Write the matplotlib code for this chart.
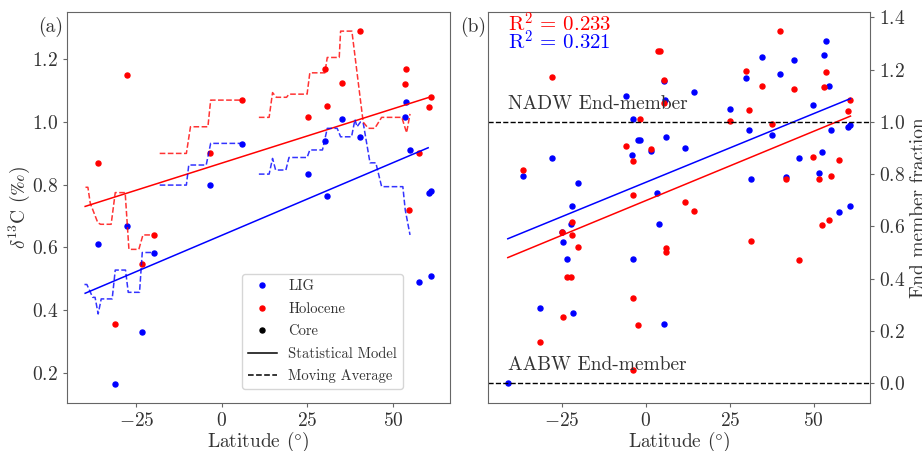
import numpy as np
import matplotlib
matplotlib.use("Agg")
import matplotlib.pyplot as plt
from matplotlib.lines import Line2D

plt.rcParams["font.family"] = ["cmr10", "DejaVu Serif"]
plt.rcParams["mathtext.fontset"] = "cm"
plt.rcParams["axes.formatter.use_mathtext"] = True
plt.rcParams["axes.edgecolor"] = "#666666"
plt.rcParams["xtick.color"] = "#666666"
plt.rcParams["ytick.color"] = "#666666"
plt.rcParams["xtick.labelcolor"] = "#333333"
plt.rcParams["ytick.labelcolor"] = "#333333"
plt.rcParams["axes.labelcolor"] = "#333333"
plt.rcParams["text.color"] = "#333333"

# ---- panel (a): d13C per core ----
lat_lig_a = [-36.2, -31.3, -27.8, -23.3, -19.9, -3.4, 5.9, 25.3, 30.0, 30.8,
             35.0, 40.3, 53.4, 53.8, 54.9, 57.7, 60.6, 61.2, 61.2]
d13c_lig = [0.610, 0.165, 0.669, 0.329, 0.584, 0.799, 0.930, 0.834, 0.940, 0.764,
            1.010, 0.952, 1.017, 1.065, 0.910, 0.489, 0.774, 0.781, 0.509]
lat_hol_a = [-36.3, -31.3, -27.8, -23.3, -19.9, -3.4, 5.9, 25.3, 30.0, 30.8,
             35.0, 40.3, 53.4, 53.8, 54.7, 57.7, 60.6, 61.2]
d13c_hol = [0.870, 0.355, 1.150, 0.546, 0.640, 0.900, 1.070, 1.017, 1.170, 1.050,
            1.124, 1.290, 1.120, 1.168, 0.720, 0.900, 1.049, 1.081]

# statistical model end points
fit_lat_lig_a = [-40.0, 60.3]
fit_lig_a = [0.454, 0.918]
fit_lat_hol_a = [-40.0, 61.2]
fit_hol_a = [0.731, 1.081]

# moving averages (NaN = gap)
nan = np.nan
ma_lat_hol = [-39.9, -39.2, -38.5, -36.3, -35.5, -32.4, -31.2, -28.3, -27.2, -24.3, -23.1, -20.4, nan,
              -18.2, -10.4, -9.2, -4.1, -3.3, 5.5, nan,
              10.8, 13.8, 14.8, 15.9, 18.9, 19.6, 24.9, 25.7, 30.1, 30.8, 34.3, 34.7, 38.0,
              41.3, 42.8, 44.7, 46.7, 52.6, 54.0, 55.0]
ma_hol = [0.792, 0.792, 0.741, 0.679, 0.674, 0.674, 0.775, 0.775, 0.594, 0.594, 0.640, 0.640, nan,
          0.900, 0.900, 0.985, 0.985, 1.070, 1.070, nan,
          1.015, 1.015, 1.094, 1.079, 1.079, 1.089, 1.089, 1.157, 1.157, 1.206, 1.206, 1.290, 1.290,
          1.000, 0.980, 0.980, 1.015, 1.015, 0.966, 1.026]
ma_lat_lig = [-40.2, -39.5, -37.8, -37.1, -36.2, -35.3, -32.1, -31.2, -28.2, -27.4, -24.1, -23.3, -20.3, nan,
              -18.2, -10.4, -9.7, -4.6, -3.3, 5.5, nan,
              10.8, 13.8, 14.8, 15.7, 18.7, 19.6, 24.9, 25.7, 29.4, 30.8, 33.7, 34.7, 37.9,
              38.9, 39.5, 40.5, 41.3, 43.3, 45.0, 46.7, 52.9, 53.6, 55.0]
ma_lig = [0.482, 0.482, 0.441, 0.441, 0.388, 0.436, 0.436, 0.528, 0.528, 0.457, 0.457, 0.584, 0.584, nan,
          0.799, 0.799, 0.863, 0.863, 0.932, 0.932, nan,
          0.834, 0.834, 0.884, 0.847, 0.847, 0.887, 0.887, 0.911, 0.911, 0.980, 0.980, 0.953, 0.953,
          1.008, 0.985, 1.000, 0.998, 0.870, 0.870, 0.794, 0.794, 0.720, 0.640]

# ---- panel (b): end member fraction ----
lat_lig_b = [-41.0, -36.4, -31.5, -28.0, -24.8, -24.7, -23.5, -22.3, -21.8, -21.7, -20.2,
             -5.9, -4.0, -3.7, -3.7, -2.3, -1.6, 1.5, 3.5, 4.0, 5.4, 5.5, 5.7, 6.0,
             11.6, 14.4, 25.1, 29.8, 30.6, 31.3, 34.7, 37.7, 39.9, 41.7, 44.1, 45.6,
             49.8, 51.5, 52.4, 53.1, 53.5, 54.5, 55.1, 57.4, 60.2, 60.9, 60.9]
frac_lig = [0.000, 0.793, 0.290, 0.863, 0.577, 0.542, 0.474, 0.609, 0.679, 0.268, 0.765,
            1.100, 0.873, 1.011, 0.474, 0.931, 0.931, 0.889, 0.727, 0.609, 0.229, 1.157, 1.083, 0.943,
            0.901, 1.113, 1.049, 1.169, 0.970, 0.780, 1.249, 0.951, 1.183, 0.790, 1.238, 0.863,
            1.064, 0.804, 0.883, 1.257, 1.310, 1.136, 0.970, 0.656, 0.980, 0.989, 0.679]
lat_hol_b = [-36.4, -31.5, -28.0, -24.8, -24.7, -23.5, -22.3, -21.8, -21.8, -20.2,
             -5.9, -3.7, -3.7, -3.7, -3.7, -2.2, -1.7, 1.5, 3.7, 4.2, 5.3, 5.5, 6.0, 6.0,
             11.6, 14.4, 25.1, 29.8, 30.6, 31.3, 34.7, 37.7, 39.9, 41.7, 44.1, 45.6,
             49.8, 51.5, 52.4, 53.1, 53.5, 54.5, 55.1, 57.4, 60.2, 60.9]
frac_hol = [0.816, 0.160, 1.170, 0.580, 0.252, 0.405, 0.405, 0.618, 0.567, 0.522,
            0.909, 0.850, 0.720, 0.327, 0.053, 0.223, 1.010, 0.895, 1.272, 1.272, 1.160, 1.071, 0.516, 0.503,
            0.692, 0.659, 1.002, 1.196, 1.044, 0.546, 1.137, 0.990, 1.348, 0.782, 1.125, 0.473,
            0.865, 0.781, 0.605, 1.132, 1.192, 0.624, 0.794, 0.853, 1.043, 1.082]

fit_lat_b = [-41.0, 60.9]
fit_lig_b = [0.553, 1.089]
fit_hol_b = [0.481, 1.022]

r2_hol = 0.233
r2_lig = 0.321

fig = plt.figure(figsize=(9.22, 4.51), dpi=100)
ax1 = fig.add_axes([0.0727, 0.1064, 0.4154, 0.8670])
ax2 = fig.add_axes([0.5296, 0.1064, 0.4140, 0.8670])

ms = 3.6
lat_label = r"Latitude ($\degree$)"

# panel (a)
ax1.plot(lat_lig_a, d13c_lig, "o", color="blue", ms=ms, lw=0)
ax1.plot(lat_hol_a, d13c_hol, "o", color="red", ms=ms, lw=0)
ax1.plot(fit_lat_lig_a, fit_lig_a, color="blue", lw=1.1)
ax1.plot(fit_lat_hol_a, fit_hol_a, color="red", lw=1.1)
ax1.plot(ma_lat_lig, ma_lig, "--", color="blue", lw=1.1, alpha=0.8)
ax1.plot(ma_lat_hol, ma_hol, "--", color="red", lw=1.1, alpha=0.8)

ax1.set_xlim(-45.3, 66.7)
ax1.set_ylim(0.104, 1.351)
ax1.set_xticks([-25, 0, 25, 50])
ax1.set_yticks([0.2, 0.4, 0.6, 0.8, 1.0, 1.2])
ax1.set_xlabel(lat_label, fontsize=14, labelpad=0)
ax1.set_ylabel(r"$\delta^{13}$C ($\perthousand$)", fontsize=14, labelpad=0)
ax1.tick_params(labelsize=14, length=3, width=0.8)
ax1.text(-0.01, 0.963, "(a)", transform=ax1.transAxes, ha="right", va="center", fontsize=14)

handles = [
    Line2D([0], [0], marker="o", color="w", markerfacecolor="blue", markeredgecolor="blue", ms=ms, label="LIG"),
    Line2D([0], [0], marker="o", color="w", markerfacecolor="red", markeredgecolor="red", ms=ms, label="Holocene"),
    Line2D([0], [0], marker="o", color="w", markerfacecolor="black", markeredgecolor="black", ms=ms, label="Core"),
    Line2D([0], [0], color="black", lw=1.1, label="Statistical Model"),
    Line2D([0], [0], color="black", lw=1.1, ls="--", label="Moving Average"),
]
ax1.legend(handles=handles, loc="lower right", fontsize=10.5, labelspacing=0.6,
           borderaxespad=0.0, bbox_to_anchor=(0.877, 0.035))

# panel (b)
ax2.plot(lat_lig_b, frac_lig, "o", color="blue", ms=ms, lw=0)
ax2.plot(lat_hol_b, frac_hol, "o", color="red", ms=ms, lw=0)
ax2.plot(fit_lat_b, fit_lig_b, color="blue", lw=1.1)
ax2.plot(fit_lat_b, fit_hol_b, color="red", lw=1.1)
ax2.axhline(1.0, color="black", ls="--", lw=1.0)
ax2.axhline(0.0, color="black", ls="--", lw=1.0)
ax2.text(-41.0, 1.05, "NADW End-member", fontsize=14, ha="left", va="baseline")
ax2.text(-41.0, 0.05, "AABW End-member", fontsize=14, ha="left", va="baseline")
ax2.text(0.052, 0.95, r"R$^2$ = %.3f" % r2_hol, color="red", transform=ax2.transAxes,
         fontsize=15, ha="left", va="baseline")
ax2.text(0.052, 0.903, r"R$^2$ = %.3f" % r2_lig, color="blue", transform=ax2.transAxes,
         fontsize=15, ha="left", va="baseline")

ax2.set_xlim(-46.8, 66.7)
ax2.set_ylim(-0.075, 1.42)
ax2.set_xticks([-25, 0, 25, 50])
ax2.set_yticks([0.0, 0.2, 0.4, 0.6, 0.8, 1.0, 1.2, 1.4])
ax2.yaxis.tick_right()
ax2.yaxis.set_label_position("right")
ax2.set_xlabel(lat_label, fontsize=14, labelpad=0)
ax2.set_ylabel("End member fraction", fontsize=14, labelpad=3.5)
ax2.tick_params(labelsize=14, length=3, width=0.8)
ax2.text(-0.006, 0.963, "(b)", transform=ax2.transAxes, ha="right", va="center", fontsize=14)

fig.savefig("out.png", dpi=100)
